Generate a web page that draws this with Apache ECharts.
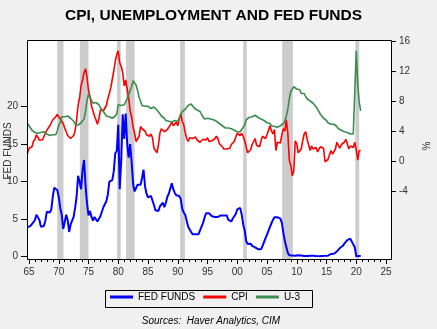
<!DOCTYPE html>
<html><head><meta charset="utf-8">
<script src="https://cdn.jsdelivr.net/npm/echarts@6/dist/echarts.min.js"></script>
<style>html,body{margin:0;padding:0;background:#f0f0f0;}#c{width:437px;height:329px;}</style>
</head><body><div id="c"></div>
<script>
// Quarterly observations, first one at the start of 1965
const firstDate = 1964.75;
const step = 0.25;

const fedFunds = [
 3.9,4.05,4.1,4.3, 4.6,4.9,5.6,5.8, 4.9,4.0,3.8,4.1, 4.8,6.0,6.0,5.9, 6.3,8.0,9.2,9.0,
 8.9,8.0,6.5,5.6, 3.7,4.6,5.6,4.9, 3.3,4.3,4.8,5.3, 6.5,8.0,10.8,10.0, 9.0,11.5,12.9,9.5,
 7.1,5.5,6.1,5.3, 4.8,5.3,5.3,4.7, 4.7,5.4,6.0,6.6, 6.8,7.4,8.3,10.0, 10.1,10.2,11.4,13.8,
 14.1,17.6,9.0,12.8, 19.0,15.7,19.1,15.1, 13.2,15.0,12.6,9.7, 8.7,8.8,9.6,9.4, 9.6,10.5,11.6,9.4,
 8.4,7.9,7.9,8.1, 7.9,6.9,6.2,6.3, 6.1,6.7,6.7,7.2, 6.6,7.2,8.0,8.4, 9.1,9.8,9.0,8.5,
 8.2,8.3,8.1,7.7, 6.4,5.9,5.6,4.8, 4.0,3.8,3.3,3.0, 3.0,3.0,3.1,3.0, 3.2,4.0,4.5,5.2,
 5.8,6.0,5.8,5.7, 5.4,5.2,5.3,5.3, 5.3,5.5,5.5,5.5, 5.5,5.5,5.5,4.9, 4.7,4.7,5.1,5.3,
 5.7,6.3,6.5,6.5, 5.6,4.3,3.5,2.1, 1.7,1.75,1.74,1.44, 1.25,1.25,1.02,1.0, 1.0,1.0,1.43,1.95,
 2.47,2.94,3.46,3.98, 4.46,4.91,5.25,5.25, 5.26,5.25,5.07,4.5, 3.18,2.09,1.94,0.51, 0.18,0.18,0.16,0.12,
 0.13,0.19,0.19,0.19, 0.16,0.09,0.08,0.07, 0.10,0.15,0.14,0.16, 0.14,0.12,0.08,0.09, 0.07,0.09,0.09,0.10,
 0.11,0.13,0.13,0.16, 0.36,0.37,0.40,0.45, 0.70,0.95,1.15,1.20, 1.45,1.74,1.92,2.22, 2.40,2.40,2.19,1.64,
 1.26,0.06,0.09,0.09, 0.08
];

const cpi = [
 1.0,1.7,1.7,1.9, 2.6,2.9,3.5,3.5, 2.8,2.7,2.8,3.0, 3.7,4.1,4.4,4.7, 4.8,5.5,5.7,5.9,
 6.2,6.1,5.6,5.6, 5.0,4.4,4.2,3.4, 3.4,3.0,3.0,3.4, 4.0,5.5,7.4,8.4, 10.0,10.8,11.8,12.3,
 11.2,9.4,8.6,7.3, 6.7,6.0,5.5,4.9, 5.6,6.8,6.6,6.7, 6.8,7.4,8.3,9.0, 9.8,10.9,12.0,13.3,
 14.2,14.7,13.1,12.6, 11.8,10.0,10.8,9.6, 8.4,6.7,5.9,4.5, 3.7,2.6,2.6,3.3, 4.6,4.3,4.3,4.0,
 3.5,3.7,3.3,3.6, 3.1,1.7,1.6,1.1, 2.1,3.7,4.3,4.5, 3.9,3.9,4.2,4.3, 4.8,5.2,4.7,4.6,
 5.2,4.7,5.6,6.3, 5.3,4.9,3.8,3.0, 2.6,3.1,3.1,3.0, 3.2,3.2,2.8,2.7, 2.5,2.4,2.9,2.7,
 2.8,3.1,2.6,2.6, 2.7,2.9,3.0,3.3, 3.0,2.3,2.2,1.9, 1.6,1.6,1.6,1.5, 1.7,2.2,2.3,2.6,
 3.2,3.7,3.5,3.4, 3.7,3.3,2.7,1.9, 1.1,1.2,1.5,2.2, 2.6,3.0,2.1,2.0, 1.9,2.7,3.3,3.2,
 3.0,3.5,3.6,4.7, 4.0,3.6,4.2,1.4, 2.5,2.6,2.4,3.5, 4.3,4.0,5.5,3.7, 0.1,-0.6,-2.0,-1.3,
 2.7,2.3,1.1,1.2, 1.6,2.7,3.6,3.9, 2.9,2.7,1.4,2.0, 1.6,1.5,1.8,1.2, 1.6,1.9,2.0,1.7,
 -0.1,-0.1,0.2,0.0, 1.4,0.9,0.8,1.6, 2.5,2.7,1.7,2.2, 2.1,2.5,2.9,2.3, 1.6,2.0,1.8,1.8,
 2.5,1.5,0.1,1.4, 1.4
];

const unemployment = [
 5.0,4.8,4.4,4.1, 3.9,3.8,3.8,3.7, 3.8,3.8,3.8,3.9, 3.7,3.6,3.5,3.4, 3.4,3.5,3.6,3.5,
 4.0,4.8,5.1,5.9, 6.0,5.9,6.0,6.0, 5.8,5.7,5.6,5.3, 4.9,4.9,4.8,4.8, 5.1,5.1,5.6,6.6,
 8.1,8.9,8.5,8.3, 7.7,7.6,7.8,7.8, 7.5,7.1,6.9,6.6, 6.3,6.0,6.0,5.9, 5.9,5.7,5.9,6.0,
 6.3,7.5,7.7,7.4, 7.5,7.5,7.4,8.3, 8.8,9.4,9.9,10.7, 10.4,10.1,9.4,8.5, 8.0,7.4,7.4,7.3,
 7.3,7.3,7.2,7.0, 7.0,7.2,7.0,6.8, 6.6,6.3,6.0,5.8, 5.7,5.4,5.6,5.3, 5.2,5.2,5.3,5.4,
 5.3,5.3,5.7,6.1, 6.6,6.8,6.9,7.1, 7.4,7.6,7.6,7.4, 7.1,7.1,6.8,6.6, 6.6,6.2,6.0,5.6,
 5.5,5.7,5.7,5.6, 5.5,5.5,5.3,5.3, 5.2,5.0,4.9,4.7, 4.6,4.4,4.5,4.4, 4.3,4.3,4.2,4.1,
 4.0,3.9,4.0,3.9, 4.2,4.4,4.8,5.5, 5.7,5.8,5.7,5.9, 5.9,6.1,6.1,5.8, 5.7,5.6,5.4,5.4,
 5.3,5.1,5.0,5.0, 4.7,4.6,4.6,4.4, 4.5,4.5,4.7,4.8, 5.0,5.3,6.0,6.9, 8.3,9.3,9.6,9.9,
 9.8,9.6,9.5,9.5, 9.0,9.1,9.0,8.6, 8.3,8.2,8.0,7.8, 7.7,7.5,7.2,6.9, 6.7,6.2,6.1,5.7,
 5.5,5.4,5.1,5.0, 4.9,4.9,4.9,4.7, 4.6,4.3,4.3,4.1, 4.1,3.9,3.8,3.8, 3.9,3.6,3.6,3.6,
 3.5,14.7,10.2,7.8, 6.7
];

// Recession shading (start, end), in years
const recessions = [
 [1969.75,1970.8],[1973.55,1975.0],[1979.8,1980.4],[1981.3,1982.75],
 [1990.4,1991.2],[2001.0,2001.6],[2007.55,2009.35],[2019.85,2020.5]
];

const leftTicks = [0, 20, 5];     // min, max, interval (FED FUNDS)
const rightTicks = [-4, 16, 4];   // min, max, interval (%)
const xTicks = [1965, 2025, 5];

function pairs(vals){ return vals.map((v,i)=>[firstDate + i*step, v]); }

// layout
const W=437,H=329;
const L=27, R=391, T=40, B=259;
const AX_L=29, AX_R=386;
const ppy=(AX_R-AX_L)/(xTicks[1]-xTicks[0]);
const xMin=xTicks[0]-(AX_L-L)/ppy, xMax=xTicks[1]+(R-AX_R)/ppy;
const FONT="'Liberation Sans', Arial, sans-serif";
const lab={fontSize:10,color:'#333',fontFamily:FONT};

const chart=echarts.init(document.getElementById('c'),null,{renderer:'canvas'});
const hiddenX=(g)=>({gridIndex:g,type:'value',min:xMin,max:xMax,show:false});
chart.setOption({
  animation:false,
  backgroundColor:'#f0f0f0',
  title:{text:'CPI, UNEMPLOYMENT AND FED FUNDS',left:60,top:3,
    textStyle:{fontSize:15.5,fontWeight:'bold',color:'#000',fontFamily:FONT}},
  grid:[
    {left:L,right:W-R,top:T,bottom:H-B,show:true,backgroundColor:'#fff',borderWidth:0},
    {left:L,right:W-R,top:106.7,bottom:H-256.7},
    {left:L,right:W-R,top:41,bottom:H-191},
    {left:AX_L,right:W-AX_R,top:T,bottom:H-B}
  ],
  xAxis:[
    hiddenX(0),hiddenX(1),hiddenX(2),
    {gridIndex:3,type:'value',min:xTicks[0],max:xTicks[1],interval:xTicks[2],
     axisLine:{show:false},
     axisTick:{show:true,length:5,lineStyle:{color:'#000'}},
     minorTick:{show:true,splitNumber:5,length:3,lineStyle:{color:'#000'}},
     splitLine:{show:false},
     axisLabel:{margin:8,...lab,formatter:v=>String(v%100).padStart(2,'0')}}
  ],
  yAxis:[
    {gridIndex:0,type:'value',min:0,max:1,show:false},
    {gridIndex:1,type:'value',position:'left',min:leftTicks[0],max:leftTicks[1],interval:leftTicks[2],
     axisLine:{show:false},axisTick:{show:true,length:6,lineStyle:{color:'#000'}},
     splitLine:{show:false},axisLabel:{margin:9,...lab}},
    {gridIndex:2,type:'value',position:'right',min:rightTicks[0],max:rightTicks[1],interval:rightTicks[2],
     axisLine:{show:false},axisTick:{show:true,length:5,lineStyle:{color:'#000'}},
     splitLine:{show:false},axisLabel:{margin:8,...lab}},
    {gridIndex:3,type:'value',min:0,max:1,show:false}
  ],
  legend:{data:['FED FUNDS','CPI','U-3'],icon:'rect',itemWidth:23,itemHeight:3,itemGap:8,
    left:110,top:292,padding:0,textStyle:{fontSize:10,color:'#000',fontFamily:FONT}},
  series:[
    {name:'recessions',type:'line',xAxisIndex:0,yAxisIndex:0,data:[[xMin,0]],symbol:'none',
     lineStyle:{width:0,opacity:0},silent:true,z:1,
     markArea:{silent:true,itemStyle:{color:'#cccccc'},
       data:recessions.map(r=>[{xAxis:r[0]},{xAxis:r[1]}])}},
    {name:'FED FUNDS',type:'line',xAxisIndex:1,yAxisIndex:1,data:pairs(fedFunds),symbol:'none',
     color:'#0000ff',lineStyle:{width:2,color:'#0000ff'},z:3},
    {name:'CPI',type:'line',xAxisIndex:2,yAxisIndex:2,data:pairs(cpi),symbol:'none',
     color:'#ff0000',lineStyle:{width:1.6,color:'#ff0000'},z:3},
    {name:'U-3',type:'line',xAxisIndex:2,yAxisIndex:2,data:pairs(unemployment),symbol:'none',
     color:'#3d8c4f',lineStyle:{width:1.6,color:'#3d8c4f'},z:3}
  ],
  graphic:[
    {type:'rect',z:100,silent:true,shape:{x:L+0.5,y:T+0.5,width:R-L,height:B-T},
     style:{fill:null,stroke:'#000',lineWidth:1}},
    {type:'rect',z:100,silent:true,shape:{x:105.5,y:290.5,width:207,height:17},
     style:{fill:null,stroke:'#000',lineWidth:1}},
    {type:'text',z:100,x:8.5,y:151,rotation:Math.PI/2,
     style:{text:'FED FUNDS',font:"10px "+FONT,fill:'#333',textAlign:'center',textVerticalAlign:'middle'}},
    {type:'text',z:100,x:427,y:146,rotation:Math.PI/2,
     style:{text:'%',font:"10px "+FONT,fill:'#333',textAlign:'center',textVerticalAlign:'middle'}},
    {type:'text',z:100,x:211,y:321,
     style:{text:'Sources:  Haver Analytics, CIM',font:"italic 10px "+FONT,fill:'#000',textAlign:'center',textVerticalAlign:'middle'}}
  ]
});
</script></body></html>
